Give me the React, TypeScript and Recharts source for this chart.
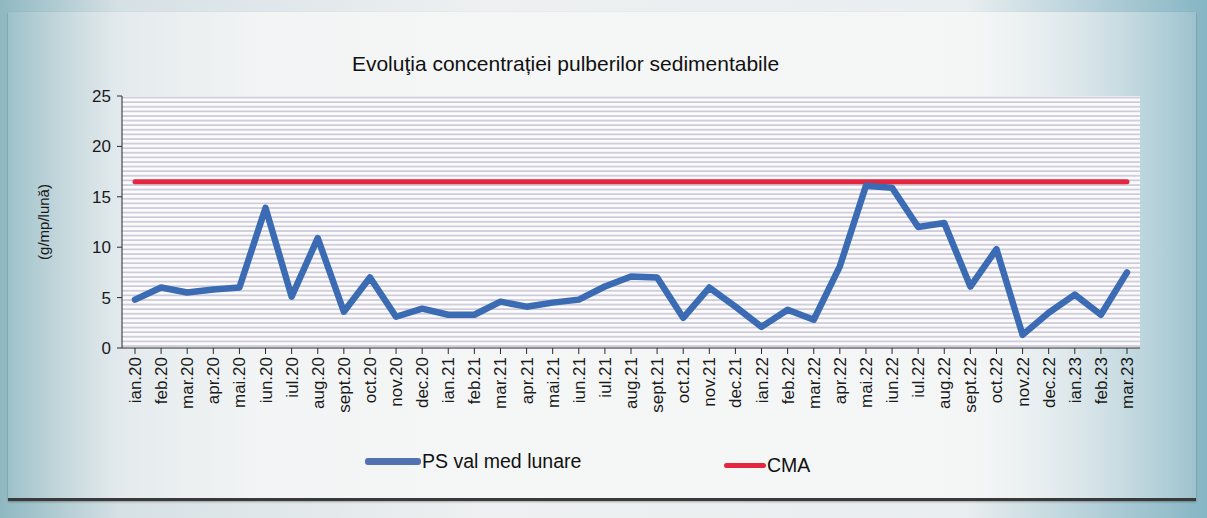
import React from 'react';
import { LineChart, Line, XAxis, YAxis, CartesianGrid } from 'recharts';

const months = [
  'ian.20', 'feb.20', 'mar.20', 'apr.20', 'mai.20', 'iun.20', 'iul.20', 'aug.20', 'sept.20', 'oct.20', 'nov.20', 'dec.20',
  'ian.21', 'feb.21', 'mar.21', 'apr.21', 'mai.21', 'iun.21', 'iul.21', 'aug.21', 'sept.21', 'oct.21', 'nov.21', 'dec.21',
  'ian.22', 'feb.22', 'mar.22', 'apr.22', 'mai.22', 'iun.22', 'iul.22', 'aug.22', 'sept.22', 'oct.22', 'nov.22', 'dec.22',
  'ian.23', 'feb.23', 'mar.23',
];

// PS val med lunare (g/mp/lună)
const psValues = [
  4.8, 6.0, 5.5, 5.8, 6.0, 13.9, 5.1, 10.9, 3.6, 7.0, 3.1, 3.9,
  3.3, 3.3, 4.6, 4.1, 4.5, 4.8, 6.1, 7.1, 7.0, 3.0, 6.0, 4.1,
  2.1, 3.8, 2.8, 8.1, 16.1, 15.9, 12.0, 12.4, 6.1, 9.8, 1.3, 3.5,
  5.3, 3.3, 7.5,
];

// CMA limit
const cmaLimit = 16.5;

const yTicks = [0, 5, 10, 15, 20, 25];

const data = months.map((m, i) => ({ month: m, ps: psValues[i], cma: cmaLimit }));

const FONT = '"Liberation Sans", Arial, sans-serif';

const MonthTick = ({ x, y, payload }: any) => (
  <g transform={`translate(${x},${y + 1})`}>
    <text
      x={0}
      y={0}
      dy={6}
      transform="rotate(-90)"
      textAnchor="end"
      fontSize={17}
      fontFamily={FONT}
      fill="#1a1a1a"
    >
      {payload.value}
    </text>
  </g>
);

export default function App() {
  return (
    <div
      style={{
        position: 'absolute',
        left: 0,
        top: 0,
        width: 1207,
        height: 518,
        overflow: 'hidden',
        fontFamily: FONT,
        background: 'linear-gradient(90deg, #8fb8c2 0%, #d6e1e5 10%, #eef0f1 40%, #e9eef0 80%, #86b5c4 100%)',
      }}
    >
      <div
        style={{
          position: 'absolute',
          left: 8,
          top: 12,
          width: 1188,
          height: 486,
          background: 'linear-gradient(90deg, rgba(240,243,244,0.1) 0%, rgba(246,247,247,0.85) 22%, rgba(246,247,247,0.85) 82%, rgba(230,238,241,0.2) 100%)',
          borderBottom: '3px solid #3a3a3a',
          boxShadow: '0 1px 2px rgba(0,0,0,0.3)',
        }}
      />
      <div
        style={{
          position: 'absolute',
          left: 0,
          width: 1131,
          top: 52,
          textAlign: 'center',
          fontSize: 21,
          color: '#111',
        }}
      >
        Evoluţia concentrației pulberilor sedimentabile
      </div>

      <div style={{ position: 'absolute', left: 0, top: 0 }}>
        <LineChart
          width={1207}
          height={518}
          data={data}
          margin={{ top: 96, right: 67, left: 60, bottom: 20 }}
        >
          <defs>
            <pattern id="stripes" width="8" height="4.6" patternUnits="userSpaceOnUse">
              <rect width="8" height="4.6" fill="#fbfbfc" />
              <line x1="0" y1="1" x2="8" y2="1" stroke="#c3bfd2" strokeWidth="1.4" />
            </pattern>
          </defs>
          <CartesianGrid fill="url(#stripes)" stroke="none" horizontal={false} vertical={false} />
          <XAxis
            dataKey="month"
            interval={0}
            height={150}
            padding={{ left: 13, right: 13 }}
            tick={<MonthTick />}
            tickSize={6}
            axisLine={{ stroke: '#2a2a2a' }}
            tickLine={{ stroke: '#2a2a2a' }}
          />
          <YAxis
            width={62}
            domain={[0, 25]}
            ticks={yTicks}
            tickSize={5}
            tickMargin={6}
            tick={{ fontSize: 17, fill: '#1a1a1a', fontFamily: FONT }}
            axisLine={{ stroke: '#2a2a2a' }}
            tickLine={{ stroke: '#2a2a2a' }}
            label={{
              value: '(g/mp/lună)',
              angle: -90,
              position: 'left',
              offset: 16,
              style: { fontSize: 15, fill: '#1a1a1a', fontFamily: FONT, textAnchor: 'middle' },
            }}
          />
          <Line
            type="linear"
            dataKey="cma"
            stroke="#e5263f"
            strokeWidth={5}
            strokeLinecap="round"
            dot={false}
            activeDot={false}
            isAnimationActive={false}
          />
          <Line
            type="linear"
            dataKey="ps"
            stroke="#3a6bb3"
            strokeWidth={6.5}
            strokeLinejoin="round"
            strokeLinecap="round"
            dot={false}
            activeDot={false}
            isAnimationActive={false}
          />
        </LineChart>
      </div>

      {/* legend */}
      <div style={{ position: 'absolute', left: 365, top: 450, display: 'flex', alignItems: 'center' }}>
        <div style={{ width: 56, height: 7, borderRadius: 3, background: '#5270b2' }} />
        <span style={{ fontSize: 19.5, color: '#111', marginLeft: 1 }}>PS val med lunare</span>
      </div>
      <div style={{ position: 'absolute', left: 724, top: 454, display: 'flex', alignItems: 'center' }}>
        <div style={{ width: 42, height: 5, borderRadius: 3, background: '#e5263f' }} />
        <span style={{ fontSize: 19.5, color: '#111', marginLeft: 1 }}>CMA</span>
      </div>
    </div>
  );
}
